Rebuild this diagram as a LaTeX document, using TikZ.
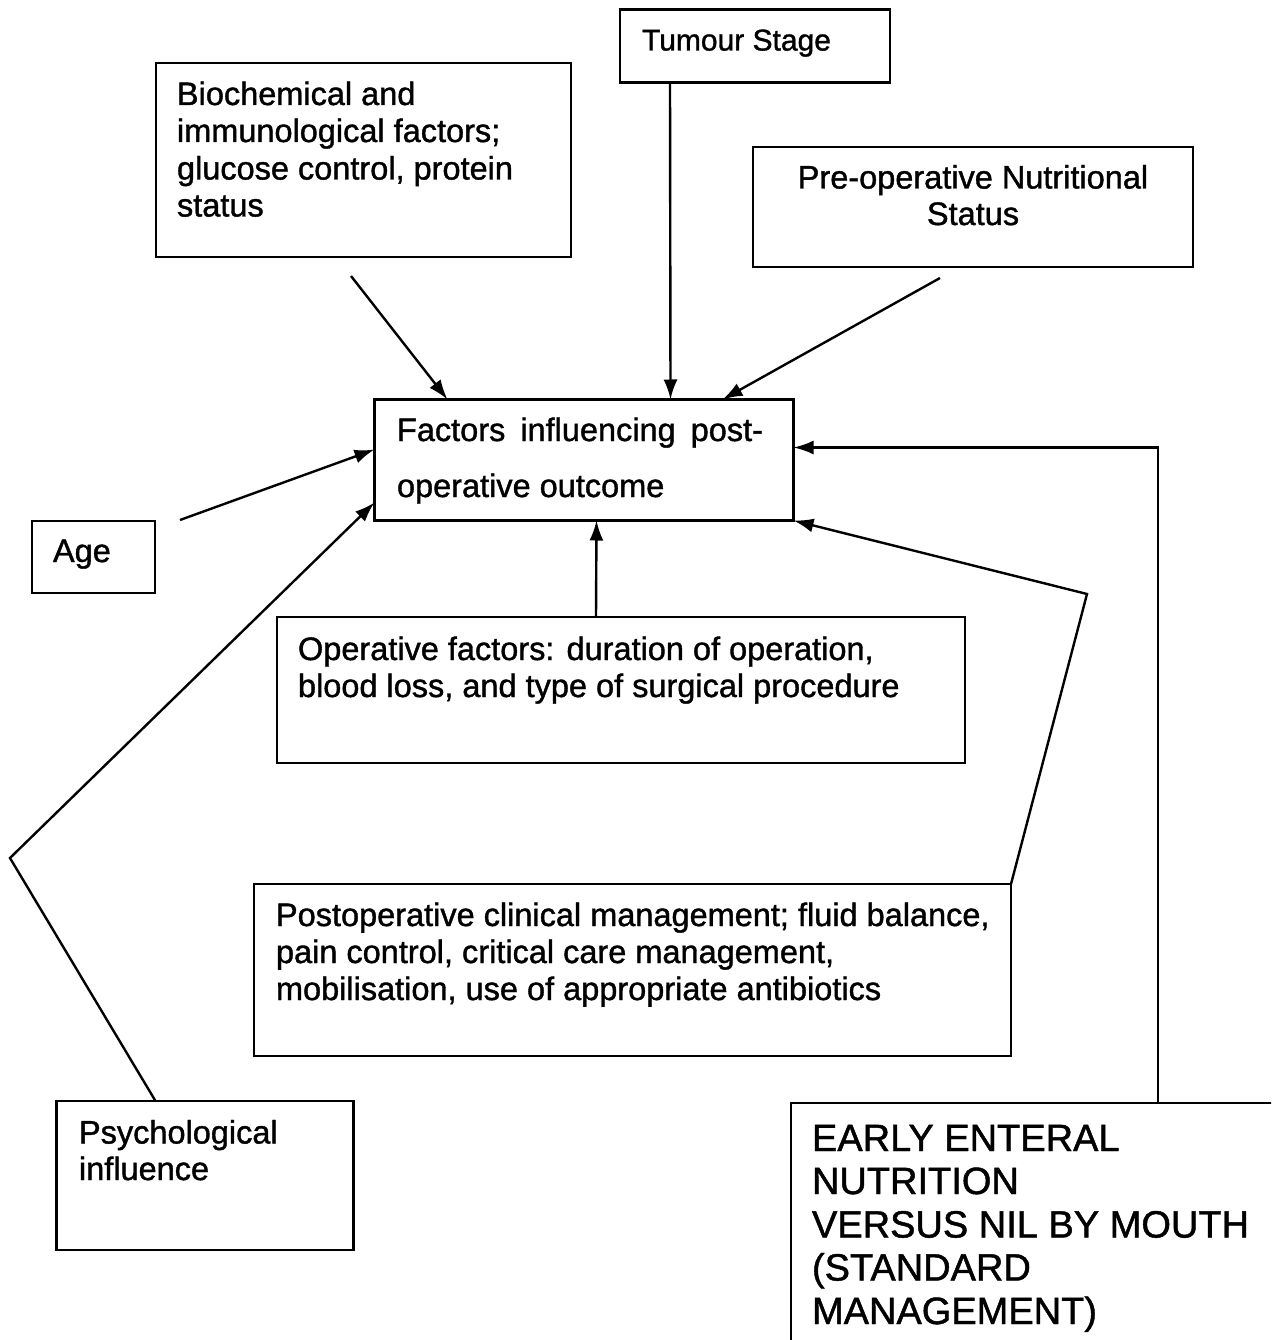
\documentclass[tikz,border=0pt]{standalone}
\usepackage{fontspec}
\setmainfont{Liberation Sans}[BoldFont={Liberation Sans},BoldFeatures={FakeBold=1.2}]
\usetikzlibrary{arrows.meta,calc}
\begin{document}
\begin{tikzpicture}[x=1pt,y=-1pt,
  box/.style={draw,line width=2.2pt,inner sep=0pt,outer sep=0pt,rectangle},
  txt/.style={inner sep=0pt,outer sep=0pt,anchor=base west,font=\bfseries\fontsize{32.5}{38}\selectfont},
  ctxt/.style={txt,anchor=base},
  big/.style={txt,font=\bfseries\fontsize{38}{43}\selectfont},
  arr/.style={line width=2.4pt,-{Latex[length=20pt,width=14pt]}},
  ln/.style={line width=2.4pt}]
\useasboundingbox (0,0) rectangle (1271,1340);
\clip (0,0) rectangle (1271,1340);
% boxes
\node[box,minimum width=270pt,minimum height=73pt] (tum) at (755,46) {};
\node[box,minimum width=415pt,minimum height=194pt] (bio) at (363.5,160) {};
\node[box,minimum width=440pt,minimum height=120pt] (pre) at (973,207) {};
\node[box,minimum width=419pt,minimum height=121pt] (fac) at (584,460) {};
\node[box,minimum width=123pt,minimum height=72pt] (age) at (93.5,557) {};
\node[box,minimum width=688pt,minimum height=146pt] (op) at (621,690) {};
\node[box,minimum width=757pt,minimum height=172pt] (post) at (632.5,970) {};
\node[box,minimum width=297pt,minimum height=149pt] (psy) at (205,1175.5) {};
\node[box,minimum width=520pt,minimum height=300pt] (ear) at (1051,1253) {};
% texts
\node[txt,font=\bfseries\fontsize{30}{35}\selectfont] (tumt) at (642,50.5) {Tumour Stage};
\node[txt] (bio1) at (177,105) {Biochemical and};
\node[txt] (bio2) at (177,142) {immunological factors;};
\node[txt] (bio3) at (177,179.5) {glucose control, protein};
\node[txt] (bio4) at (177,216.5) {status};
\node[ctxt] (pre1) at (973,188.5) {Pre-operative Nutritional};
\node[ctxt] (pre2) at (973,225) {Status};
\node[txt] (fac1) at (397,441) {\makebox[366pt][l]{Factors\hfill influencing\hfill post-}};
\node[txt] (fac2) at (397,497) {operative outcome};
\node[txt] (aget) at (53,562) {Age};
\node[txt] (op1) at (298,660) {Operative factors: duration of operation,};
\node[txt] (op2) at (298,697) {blood loss, and type of surgical procedure};
\node[txt] (post1) at (276,926) {Postoperative clinical management; fluid balance,};
\node[txt] (post2) at (276,963) {pain control, critical care management,};
\node[txt] (post3) at (276,1000) {mobilisation, use of appropriate antibiotics};
\node[txt] (psy1) at (79,1143.5) {Psychological};
\node[txt] (psy2) at (79,1180) {influence};
\node[big] (ear1) at (812,1151) {EARLY ENTERAL};
\node[big] (ear2) at (812,1194) {NUTRITION};
\node[big] (ear3) at (812,1237.5) {VERSUS NIL BY MOUTH};
\node[big] (ear4) at (812,1280.5) {(STANDARD};
\node[big] (ear5) at (812,1324) {MANAGEMENT)};
% free ends and bends
\coordinate (bioS) at (351,276);
\coordinate (preS) at (940,278);
\coordinate (ageS) at (180,520);
\coordinate (psyB) at (10,858);
\coordinate (postB) at (1087,594);
% connectors
\draw[arr] (bioS) -- ($(fac.north west)+(73,0)$);
\draw[arr] ($(tum.south west)+(50,0)$) -- ($(fac.north west)+(296,0)$);
\draw[arr] (preS) -- ($(fac.north west)+(348,0)$);
\draw[arr] (ageS) -- ($(fac.north west)+(0,50)$);
\draw[arr] ($(psy.north west)+(99,0)$) -- (psyB) -- ($(fac.south west)+(0,-18)$);
\draw[arr] ($(op.north west)+(319,0)$) -- ($(fac.south west)+(222,0)$);
\draw[arr] (post.north east) -- (postB) -- (fac.south east);
\draw[arr] ($(ear.north west)+(367,0)$) |- ($(fac.north east)+(0,48)$);
\end{tikzpicture}
\end{document}
